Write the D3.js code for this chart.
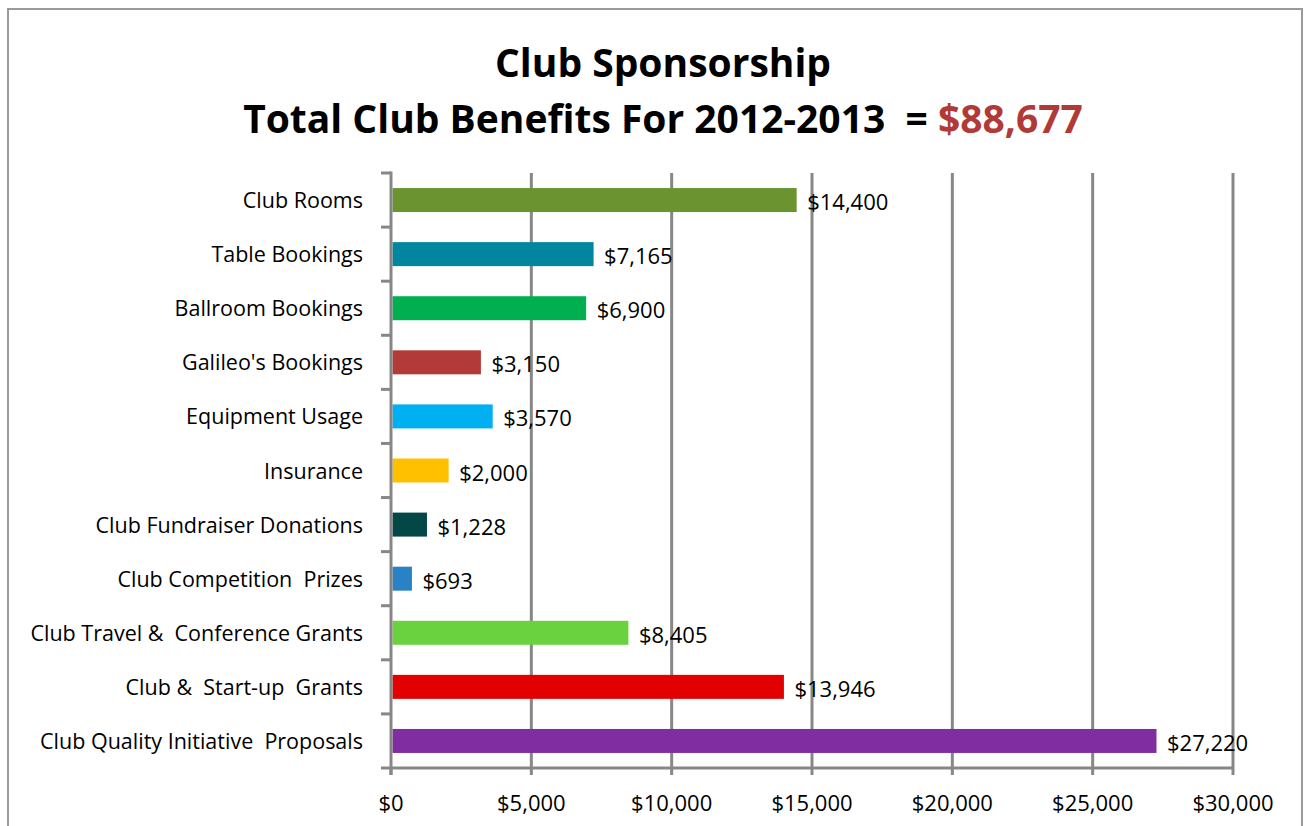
<!DOCTYPE html>
<html>
<head>
<meta charset="utf-8">
<script src="https://cdn.jsdelivr.net/npm/d3@7"></script>
<style>
  body { margin: 0; background: #fff; }
  svg { display: block; font-family: "Open Sans", Lato, sans-serif; }
</style>
</head>
<body>
<div id="chart"></div>
<script>
const categories = ["Club Rooms", "Table Bookings", "Ballroom Bookings", "Galileo's Bookings",
  "Equipment Usage", "Insurance", "Club Fundraiser Donations", "Club Competition  Prizes",
  "Club Travel &  Conference Grants", "Club &  Start-up  Grants", "Club Quality Initiative  Proposals"];
const values = [14400, 7165, 6900, 3150, 3570, 2000, 1228, 693, 8405, 13946, 27220];
const colors = ["#6B9431", "#00879F", "#00B050", "#B23A38", "#00B0F0", "#FFC000",
  "#034747", "#2A82C6", "#6BD23F", "#E20000", "#7F2DA1"];
const xTicks = [0, 5000, 10000, 15000, 20000, 25000, 30000];
const totalLabel = "$88,677";

const width = 1304, height = 826;
const svg = d3.select("#chart").append("svg")
  .attr("width", width).attr("height", height);

// chart frame
svg.append("rect")
  .attr("x", 8).attr("y", 9).attr("width", 1294).attr("height", 840)
  .attr("fill", "none").attr("stroke", "#9a9a9a").attr("stroke-width", 2);

// title
const title = svg.append("g").attr("font-weight", "bold").attr("text-anchor", "middle");
title.append("text").attr("x", 663).attr("y", 77)
  .attr("font-size", 39).text("Club Sponsorship");
const t2 = title.append("text").attr("x", 663).attr("y", 133).attr("font-size", 39)
  .attr("xml:space", "preserve").style("white-space", "pre");
t2.append("tspan").text("Total Club Benefits For 2012-2013  = ");
t2.append("tspan").attr("fill", "#B23A36").text(totalLabel);

const plotLeft = 391, plotRight = 1233, plotTop = 173, plotBottom = 768;
const x = d3.scaleLinear().domain([0, 30000]).range([plotLeft, plotRight]);
const band = d3.scaleBand().domain(categories).range([plotTop, plotBottom]);
const barH = 24;

// gridlines
svg.append("g")
  .selectAll("line")
  .data(xTicks.slice(1))
  .join("line")
  .attr("x1", d => x(d)).attr("x2", d => x(d))
  .attr("y1", plotTop).attr("y2", plotBottom)
  .attr("stroke", "#878787").attr("stroke-width", 3);

// bars
svg.append("g")
  .selectAll("rect")
  .data(categories)
  .join("rect")
  .attr("x", x(0) + 1.5)
  .attr("y", d => band(d) + (band.bandwidth() - barH) / 2)
  .attr("height", barH)
  .attr("width", (d, i) => x(values[i]) - x(0))
  .attr("fill", (d, i) => colors[i]);

// value labels
svg.append("g")
  .attr("font-size", 22).attr("fill", "#000")
  .selectAll("text")
  .data(categories)
  .join("text")
  .attr("x", (d, i) => x(values[i]) + 12)
  .attr("y", d => band(d) + band.bandwidth() / 2 + 10)
  .text((d, i) => "$" + d3.format(",")(values[i]));

// y axis
const yAxis = svg.append("g")
  .attr("stroke", "#878787").attr("stroke-width", 3);
yAxis.append("line").attr("x1", plotLeft).attr("x2", plotLeft)
  .attr("y1", plotTop - 1.5).attr("y2", plotBottom + 7);
yAxis.selectAll("line.tick")
  .data(d3.range(categories.length + 1))
  .join("line").attr("class", "tick")
  .attr("x1", plotLeft - 10).attr("x2", plotLeft)
  .attr("y1", i => plotTop + i * band.bandwidth())
  .attr("y2", i => plotTop + i * band.bandwidth());

svg.append("g")
  .attr("font-size", 21.5).attr("text-anchor", "end")
  .selectAll("text")
  .data(categories)
  .join("text")
  .attr("x", 363)
  .attr("y", d => band(d) + band.bandwidth() / 2 + 8)
  .attr("xml:space", "preserve")
  .style("white-space", "pre")
  .text(d => d);

// x axis
const xAxis = svg.append("g").attr("stroke", "#878787").attr("stroke-width", 3);
xAxis.append("line").attr("x1", plotLeft).attr("x2", plotRight)
  .attr("y1", plotBottom).attr("y2", plotBottom);
xAxis.selectAll("line.tick")
  .data(xTicks)
  .join("line").attr("class", "tick")
  .attr("x1", d => x(d)).attr("x2", d => x(d))
  .attr("y1", plotBottom).attr("y2", plotBottom + 7);

svg.append("g")
  .attr("font-size", 22).attr("text-anchor", "middle")
  .selectAll("text")
  .data(xTicks)
  .join("text")
  .attr("x", d => x(d))
  .attr("y", 811)
  .text(d => "$" + d3.format(",")(d));
</script>
</body>
</html>
